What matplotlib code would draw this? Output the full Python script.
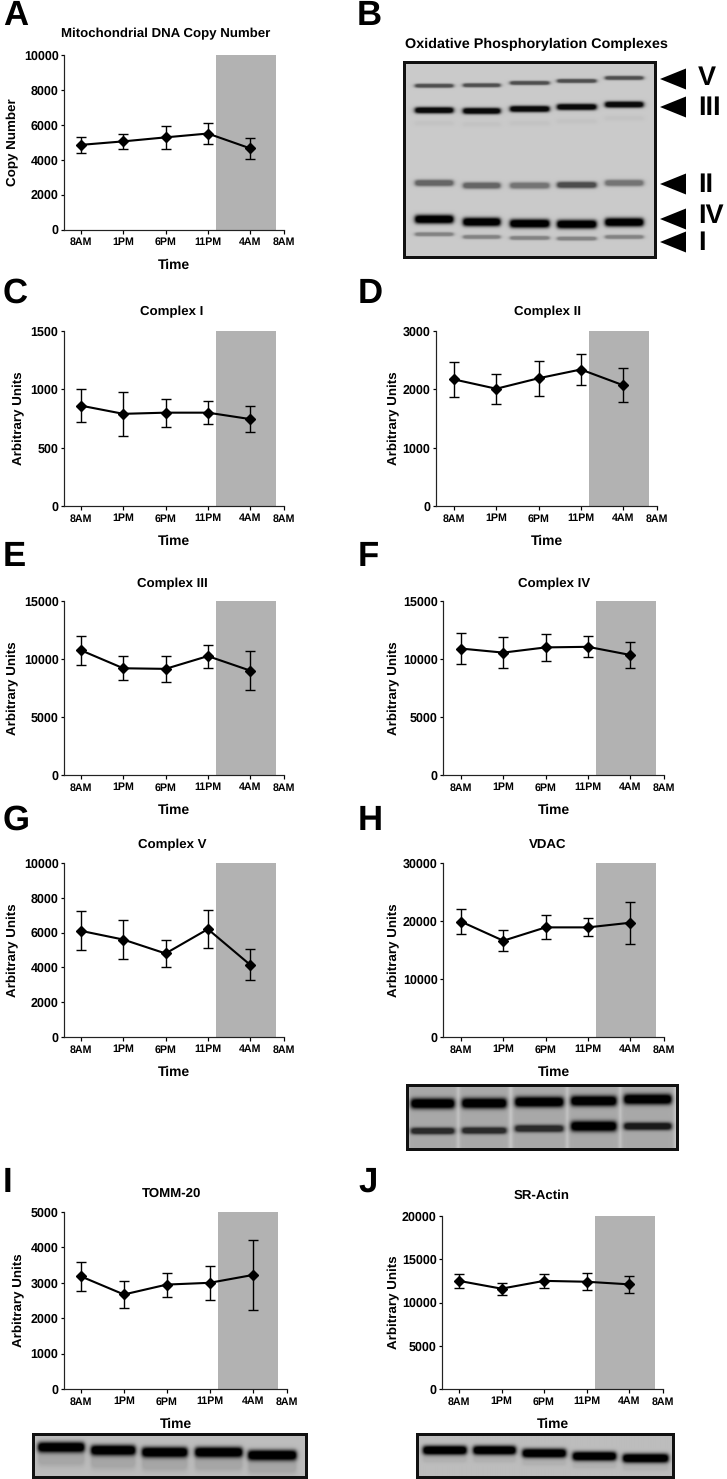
import matplotlib
matplotlib.use("Agg")
import matplotlib.pyplot as plt
from matplotlib.patches import Polygon
import numpy as np

W, H = 727, 1479
DPI = 100

plt.rcParams["font.family"] = ["Liberation Sans", "DejaVu Sans"]
plt.rcParams["font.weight"] = "bold"
plt.rcParams["text.hinting"] = "none"
plt.rcParams["axes.edgecolor"] = "#222222"

hours = [0, 5, 10, 15, 20]
tick_hours = [0, 5, 10, 15, 20, 24]
tick_labels = ["8AM", "1PM", "6PM", "11PM", "4AM", "8AM"]
dark_start, dark_end = 16, 23

copy_mean = [4850, 5050, 5280, 5500, 4650]
copy_err = [450, 420, 640, 600, 620]
c1_mean = [860, 790, 800, 800, 745]
c1_err = [140, 190, 120, 100, 110]
c2_mean = [2170, 2010, 2190, 2340, 2070]
c2_err = [300, 260, 300, 260, 290]
c3_mean = [10750, 9200, 9150, 10250, 9000]
c3_err = [1250, 1050, 1150, 1000, 1700]
c4_mean = [10900, 10550, 11000, 11050, 10350]
c4_err = [1300, 1350, 1150, 900, 1150]
c5_mean = [6100, 5600, 4800, 6200, 4150]
c5_err = [1120, 1120, 780, 1080, 900]
vdac_mean = [19900, 16600, 18900, 18900, 19700]
vdac_err = [2200, 1850, 2050, 1550, 3650]
tomm_mean = [3180, 2670, 2950, 3000, 3220]
tomm_err = [420, 370, 340, 480, 1000]
actin_mean = [12500, 11600, 12500, 12400, 12100]
actin_err = [850, 700, 800, 1000, 950]


def px(x):
    return x * 72 / DPI


fig = plt.figure(figsize=(W / DPI, H / DPI), dpi=DPI, facecolor="white")


def panel(box, title, title_xy, ylabel, ylabel_x, mean, err, ymax, yticks):
    left, top, bottom, x8, x8r = box
    scale = (x8r - x8) / 24
    ax = fig.add_axes([left / W, 1 - bottom / H, (x8r - left) / W, (bottom - top) / H])
    ax.set_xlim(-(x8 - left) / scale, 24)
    ax.set_ylim(0, ymax)
    ax.axvspan(dark_start, dark_end, color="#b2b2b2", lw=0, zorder=0)
    ax.errorbar(hours, mean, yerr=err, color="black", lw=px(2.1), elinewidth=px(1.4),
                capsize=px(5), capthick=px(1.4), marker="D", ms=px(7), zorder=3)
    ax.spines[["top", "right"]].set_visible(False)
    for s in ["left", "bottom"]:
        ax.spines[s].set_linewidth(px(1.2))
    ax.set_xticks(tick_hours, tick_labels, fontsize=7.7)
    ax.set_yticks(yticks)
    ax.tick_params(axis="x", length=px(3.5), width=px(1.2), pad=px(4))
    ax.tick_params(axis="y", length=px(3.5), width=px(1.2), pad=px(2), labelsize=9.0)
    h = bottom - top
    w = x8r - left
    ax.set_title(title, fontsize=9.5, fontweight="bold", va="center",
                 x=(title_xy[0] - left) / w, y=1 + (top - title_xy[1]) / h)
    ax.set_xlabel("Time", fontsize=10, fontweight="bold")
    ax.xaxis.set_label_coords(0.5, -29 / h)
    ax.set_ylabel(ylabel, fontsize=9.6, fontweight="bold", va="center")
    ax.yaxis.set_label_coords((ylabel_x - left) / w, 0.5)
    return ax


def blot(frame, lanes, bands, bg=0.76, gap=0.0):
    left, top, right, bottom = frame
    ax = fig.add_axes([left / W, 1 - bottom / H, (right - left) / W, (bottom - top) / H])
    xs = np.arange(left, right, 0.5)
    ys = np.arange(top, bottom, 0.5)
    X, Y = np.meshgrid(xs, ys)
    img = np.full(X.shape, bg, dtype=float)
    if gap:
        lane_mask = np.zeros(X.shape)
        for x0, x1 in lanes:
            lane_mask = np.maximum(lane_mask, 0.5 * (np.tanh((X - x0 + 3) / 2) - np.tanh((X - x1 - 3) / 2)))
        img += gap * (1 - lane_mask)
    for centres, half, dark in bands:
        for i, (x0, x1) in enumerate(lanes):
            d = dark[i] if isinstance(dark, (list, tuple)) else dark
            hh = half[i] if isinstance(half, (list, tuple)) else half
            edge = 0.5 * (np.tanh((X - x0) / 2.5) - np.tanh((X - x1) / 2.5))
            core = np.exp(-(np.abs(Y - centres[i]) / hh) ** 2.4)
            img *= 1 - d * np.minimum(1, 1.4 * edge * core)
    ax.imshow(img, cmap="gray", vmin=0, vmax=1, extent=(left, right, bottom, top),
              aspect="auto", interpolation="bilinear")
    ax.set_xticks([])
    ax.set_yticks([])
    for s in ax.spines.values():
        s.set_linewidth(px(3))
        s.set_color("#111111")
    return ax


# line panels: left, top, bottom, first 8AM, last 8AM (reference pixels)
panel((64, 55, 229.5, 81, 284), "Mitochondrial DNA Copy Number", (166, 42), "Copy Number", 13,
      copy_mean, copy_err, 10000, [0, 2000, 4000, 6000, 8000, 10000])
panel((64, 331, 506, 81, 284), "Complex I", (172, 320), "Arbitrary Units", 19,
      c1_mean, c1_err, 1500, [0, 500, 1000, 1500])
panel((436, 331, 506, 454, 657), "Complex II", (548, 320), "Arbitrary Units", 394,
      c2_mean, c2_err, 3000, [0, 1000, 2000, 3000])
panel((64, 601, 775, 81, 284), "Complex III", (172, 592), "Arbitrary Units", 13,
      c3_mean, c3_err, 15000, [0, 5000, 10000, 15000])
panel((443, 601, 775, 461, 664), "Complex IV", (554, 592), "Arbitrary Units", 394,
      c4_mean, c4_err, 15000, [0, 5000, 10000, 15000])
panel((64, 863, 1037, 81, 284), "Complex V", (172, 853), "Arbitrary Units", 13,
      c5_mean, c5_err, 10000, [0, 2000, 4000, 6000, 8000, 10000])
panel((443, 863, 1037, 461, 664), "VDAC", (548, 853), "Arbitrary Units", 394,
      vdac_mean, vdac_err, 30000, [0, 10000, 20000, 30000])
panel((64, 1212, 1389, 81, 287), "TOMM-20", (172, 1202), "Arbitrary Units", 19,
      tomm_mean, tomm_err, 5000, [0, 1000, 2000, 3000, 4000, 5000])
panel((442, 1216, 1389, 459, 663), "SR-Actin", (542, 1204), "Arbitrary Units", 394,
      actin_mean, actin_err, 20000, [0, 5000, 10000, 15000, 20000])

# blots
b_lanes = [(415, 453), (463, 500), (510, 549), (557, 596), (605, 643)]
blot((404, 62, 655, 257), b_lanes, [
    ([85.5, 85, 82.7, 80.7, 77.7], 2.0, 0.6),
    ([110, 110.7, 108.7, 106.7, 104.3], 3.1, 0.95),
    ([123, 124, 123, 121, 118], 2.5, 0.03),
    ([182.7, 185.3, 185.3, 184.7, 182.7], 3.2, [0.5, 0.5, 0.42, 0.62, 0.42]),
    ([219, 221.7, 223.3, 224, 222], 4.3, 1.0),
    ([234, 236.7, 237.7, 238.3, 236.7], 2.0, 0.35),
], bg=0.79)

h_lanes = [(411, 454), (462, 506), (515, 563), (571, 616), (624, 671)]
blot((407, 1085, 677, 1149), h_lanes, [
    ([1103.3, 1103, 1101.7, 1100.7, 1099], 5.2, 1.0),
    ([1130.7, 1130.3, 1128.3, 1126, 1126], [3.4, 3.4, 3.6, 5.2, 3.8], [0.75, 0.75, 0.75, 1.0, 0.85]),
], bg=0.66, gap=0.14)

i_lanes = [(38, 84), (91, 135), (142, 187), (195, 242), (248, 296)]
blot((33, 1434, 306, 1477), i_lanes, [
    ([1447, 1450, 1452, 1452, 1455], 5.2, 1.0),
    ([1458, 1461, 1463, 1463, 1466], 8, 0.12),
], bg=0.74)

j_lanes = [(423, 466), (473, 515), (522, 565), (572, 615), (622, 667)]
blot((417, 1434, 673, 1477), j_lanes, [
    ([1450, 1450, 1453, 1456, 1458], 4.6, 1.0),
    ([1459, 1459, 1462, 1465, 1467], 3.5, 0.06),
], bg=0.74)

# overlay for panel letters and complex arrows
over = fig.add_axes([0, 0, 1, 1], facecolor="none")
over.set_xlim(0, W)
over.set_ylim(H, 0)
over.axis("off")
for letter, x, y in [("A", 3, 16), ("B", 357, 16), ("C", 3, 294), ("D", 358, 294),
                     ("E", 3, 557), ("F", 358, 557), ("G", 3, 821), ("H", 358, 821),
                     ("I", 3, 1183), ("J", 358, 1183)]:
    over.text(x, y, letter, fontsize=25, fontweight="bold", ha="left", va="center")

over.text(536, 44, "Oxidative Phosphorylation Complexes", fontsize=10.4, fontweight="bold",
          ha="center", va="center")
for label, y, yt in [("V", 79, 78), ("III", 107, 108), ("II", 184, 185), ("IV", 219, 216), ("I", 242, 243)]:
    over.add_patch(Polygon([(660, y), (686, y - 10.5), (686, y + 10.5)], color="black", lw=0))
    over.text(698, yt, label, fontsize=19.5, fontweight="bold", ha="left", va="center")

fig.savefig("out.png", dpi=DPI)
